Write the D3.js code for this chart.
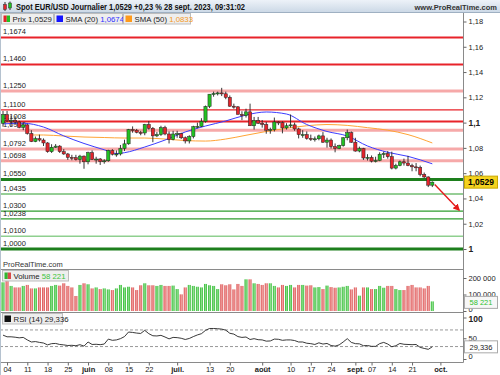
<!DOCTYPE html>
<html>
<head>
<meta charset="utf-8">
<script src="https://cdn.jsdelivr.net/npm/d3@7"></script>
<style>
  body { margin: 0; background: #fff; }
  svg { display: block; font-family: "Liberation Sans", Arial, sans-serif; }
</style>
</head>
<body>
<svg width="500" height="375"></svg>
<script>
// ---- data (daily bars, 3 May -> 28 Sept 2023, weekdays) ----
const opens = [1.0995,1.1063,1.1014,1.1019,1.1005,1.0962,1.0982,1.0914,1.0850,1.0873,
  1.0862,1.0839,1.0770,1.0805,1.0814,1.0770,1.0752,1.0725,1.0722,1.0707,
  1.0735,1.0690,1.0762,1.0708,1.0712,1.0692,1.0698,1.0780,1.0750,1.0752,
  1.0795,1.0832,1.0945,1.0940,1.0923,1.0918,1.0985,1.0955,1.0895,1.0905,
  1.0960,1.0910,1.0866,1.0910,1.0912,1.0880,1.0855,1.0890,1.0968,1.0970,
  1.1010,1.1128,1.1225,1.1230,1.1235,1.1228,1.1200,1.1130,1.1125,1.1065,
  1.1055,1.1085,1.0975,1.1015,1.0995,1.0985,1.0940,1.0945,1.1005,1.1000,
  1.0958,1.0975,1.0982,1.0950,1.0905,1.0905,1.0875,1.0870,1.0872,1.0895,
  1.0845,1.0862,1.0810,1.0795,1.0818,1.0880,1.0920,1.0845,1.0775,1.0795,
  1.0720,1.0725,1.0695,1.0700,1.0750,1.0755,1.0730,1.0640,1.0660,1.0690,
  1.0680,1.0660,1.0650,1.0645,1.0590,1.0570,1.0505];
const highs = [1.1092,1.1092,1.1055,1.1050,1.1015,1.1000,1.0990,1.0940,1.0890,1.0905,
  1.0875,1.0845,1.0829,1.0830,1.0822,1.0790,1.0760,1.0745,1.0745,1.0745,
  1.0740,1.0770,1.0780,1.0730,1.0720,1.0710,1.0785,1.0790,1.0780,1.0823,
  1.0865,1.0950,1.0970,1.0950,1.0935,1.0990,1.1012,1.0965,1.0925,1.0975,
  1.0975,1.0930,1.0935,1.0935,1.0920,1.0890,1.0900,1.0975,1.1000,1.1035,
  1.1135,1.1225,1.1245,1.1245,1.1275,1.1245,1.1215,1.1150,1.1130,1.1090,
  1.1110,1.1150,1.1045,1.1045,1.1020,1.1005,1.0960,1.1040,1.1010,1.1010,
  1.0995,1.1064,1.1000,1.0960,1.0940,1.0930,1.0905,1.0890,1.0905,1.0925,
  1.0880,1.0875,1.0835,1.0825,1.0885,1.0945,1.0930,1.0880,1.0810,1.0800,
  1.0750,1.0740,1.0730,1.0765,1.0770,1.0775,1.0770,1.0675,1.0700,1.0715,
  1.0737,1.0675,1.0680,1.0660,1.0605,1.0575,1.0535];
const lows = [1.0968,1.1003,1.0968,1.0990,1.0955,1.0940,1.0905,1.0846,1.0845,1.0850,
  1.0815,1.0762,1.0760,1.0800,1.0760,1.0745,1.0705,1.0702,1.0700,1.0675,
  1.0635,1.0670,1.0705,1.0675,1.0665,1.0675,1.0690,1.0740,1.0730,1.0740,
  1.0775,1.0825,1.0920,1.0915,1.0900,1.0900,1.0945,1.0845,1.0885,1.0895,
  1.0900,1.0835,1.0860,1.0880,1.0870,1.0835,1.0835,1.0875,1.0955,1.0965,
  1.1000,1.1115,1.1205,1.1215,1.1210,1.1185,1.1125,1.1110,1.1065,1.1020,
  1.1040,1.0975,1.0945,1.0990,1.0960,1.0912,1.0912,1.0930,1.0980,1.0915,
  1.0945,1.0960,1.0935,1.0875,1.0880,1.0865,1.0855,1.0850,1.0860,1.0840,
  1.0802,1.0795,1.0765,1.0790,1.0810,1.0860,1.0840,1.0770,1.0765,1.0705,
  1.0700,1.0685,1.0685,1.0695,1.0720,1.0715,1.0630,1.0630,1.0655,1.0660,
  1.0655,1.0615,1.0615,1.0575,1.0560,1.0490,1.0490];
const closes = [1.1063,1.1014,1.1019,1.1005,1.0962,1.0982,1.0914,1.0850,1.0873,1.0862,
  1.0839,1.0770,1.0805,1.0814,1.0770,1.0752,1.0725,1.0722,1.0707,1.0735,
  1.0690,1.0762,1.0708,1.0712,1.0692,1.0698,1.0780,1.0750,1.0752,1.0795,
  1.0832,1.0945,1.0940,1.0923,1.0918,1.0985,1.0955,1.0895,1.0905,1.0960,
  1.0910,1.0866,1.0910,1.0912,1.0880,1.0855,1.0890,1.0968,1.0970,1.1010,
  1.1128,1.1225,1.1230,1.1235,1.1228,1.1200,1.1130,1.1125,1.1065,1.1055,
  1.1085,1.0975,1.1015,1.0995,1.0985,1.0940,1.0945,1.1005,1.1000,1.0958,
  1.0975,1.0982,1.0950,1.0905,1.0905,1.0875,1.0870,1.0872,1.0895,1.0845,
  1.0862,1.0810,1.0795,1.0818,1.0880,1.0920,1.0845,1.0775,1.0795,1.0720,
  1.0725,1.0695,1.0700,1.0750,1.0755,1.0730,1.0640,1.0660,1.0690,1.0680,
  1.0660,1.0650,1.0645,1.0590,1.0570,1.0505,1.0529];

const volumes = [174000,188000,152000,143000,143000,152000,158000,137000,137000,143000,
  143000,143000,152000,158000,154000,168000,152000,143000,91000,158000,
  168000,162000,137000,143000,133000,137000,131000,127000,137000,158000,
  143000,147000,143000,127000,156000,168000,156000,156000,152000,158000,
  152000,152000,154000,133000,101000,143000,158000,152000,147000,143000,
  164000,156000,152000,133000,162000,156000,162000,131000,164000,152000,
  192000,192000,168000,164000,158000,168000,168000,152000,143000,158000,
  152000,158000,143000,158000,158000,154000,156000,143000,145000,133000,
  154000,145000,141000,143000,147000,152000,131000,143000,93000,143000,
  143000,133000,133000,152000,141000,152000,152000,133000,127000,127000,
  152000,158000,143000,143000,137000,152000,58221];

const rsi = [57.5,53.5,53.5,52.5,51,52,46,41,42,40,
  38.5,34,37,37.5,35,34,32.5,33,32,34.5,
  31,41,35,35.5,34.5,36,48,45,46,49,
  54,65,64,62.5,61.5,69,61,56,55.5,57,
  53,48.5,52,51.5,50,47,49.5,54,58,61,
  69,73.5,73.5,73,72,69.5,62,60,54,52,
  53,47,49,46.5,46,43,43.5,48,47.5,45,
  46,46,44.5,41,41,38,37,35,39,36,
  37.5,32.5,31,34,41,49,40,37,36.5,32,
  32.5,30.5,30.5,37,40,36,29.5,32,37.5,35.5,
  35,34.5,35,28,25.5,23.3,29.336];

// moving averages at a few bars
const sma20Idx = [0,5,10,15,20,25,28,30,35,40,45,50,55,60,65,70,75,80,85,90,95,100,106];
const sma20 = [1.0990,1.0995,1.0965,1.0895,1.0835,1.0785,1.0755,1.0762,1.0807,1.0862,1.0926,1.0973,
  1.1013,1.1060,1.1084,1.1068,1.0985,1.0930,1.0894,1.0815,1.0765,1.0733,1.0674];
const sma50Idx = [7,10,15,20,25,30,35,40,45,50,55,60,65,70,75,80,85,90,95,100,106];
const sma50 = [1.0902,1.0902,1.0894,1.0886,1.0882,1.0878,1.0878,1.0870,1.0858,1.0854,1.0870,
  1.0900,1.0930,1.0955,1.0975,1.0985,1.0978,1.0960,1.0940,1.0905,1.0839];

// support / resistance levels drawn by the user
const levels = [1.1674,1.1460,1.1250,1.1100,1.1008,1.0940,1.0792,1.0698,1.0550,1.0435,1.0300,1.0238,1.0100,1.0000];

const tickIdx = [1,6,11,16,21,26,31,36,43,51,56,64,71,76,81,87,91,96,101,108];
const tickLabels = ["04","11","18","25","juin","08","15","22","juil.","13","20","août","10","17","24","sept.","07","14","21","oct."];
const priceTicks = [1,1.02,1.04,1.06,1.08,1.1,1.12,1.14,1.16,1.18];

const lastPrice = 1.0529;
const arrowFrom = [106.6, 1.0510];
const arrowTo = [112.6, 1.0309];

// ---- layout ----
const axisX = 463.5;
const svg = d3.select("svg");
const defs = svg.append("defs");

const x = d3.scaleLinear().domain([0, 106]).range([3, 432.3]);
const y = d3.scaleLinear().domain([1, 1.18]).range([249, 21.5]);
const yVol = d3.scaleLinear().domain([0, 200000]).range([311, 278]);
const yRsi = d3.scaleLinear().domain([0, 100]).range([359, 317.5]);

const comma = v => String(v).replace(".", ",");

// gradients
const hdr = defs.append("linearGradient").attr("id", "hdr").attr("x1", 0).attr("y1", 0).attr("x2", 0).attr("y2", 1);
hdr.append("stop").attr("offset", 0).attr("stop-color", "#edf2f8");
hdr.append("stop").attr("offset", 1).attr("stop-color", "#cbd8e6");
function hGrad(id, a, b) {
  const g = defs.append("linearGradient").attr("id", id);
  g.append("stop").attr("offset", 0).attr("stop-color", a);
  g.append("stop").attr("offset", 0.55).attr("stop-color", b);
  g.append("stop").attr("offset", 1).attr("stop-color", a);
}
hGrad("volUp", "#2fb82f", "#8fe08f");
hGrad("volDown", "#d84a4a", "#f2a4a4");

defs.append("clipPath").attr("id", "pclip")
  .append("rect").attr("x", 0).attr("y", 13).attr("width", axisX).attr("height", 256);
defs.append("marker").attr("id", "arr").attr("viewBox", "0 0 10 10")
  .attr("refX", 8).attr("refY", 5).attr("markerWidth", 5).attr("markerHeight", 5)
  .attr("orient", "auto")
  .append("path").attr("d", "M0,0L10,5L0,10z").attr("fill", "#e41a1a");

svg.append("rect").attr("width", 500).attr("height", 375).attr("fill", "#fff");

// ---- price panel ----
const price = svg.append("g").attr("clip-path", "url(#pclip)");

const levelStyle = v => {
  if (v === 1.055 || v === 1) return { c: "#1d7f1d", w: 3 };
  if (v === 1.01) return { c: "#8fd08f", w: 1.5 };
  if (v < lastPrice) return { c: "#2f9e2f", w: 1.2 };
  if (v === 1.125 || v === 1.094 || v === 1.0792 || v === 1.0698) return { c: "#f6a9a9", w: 3 };
  if (v === 1.11) return { c: "#e8232a", w: 1.2 };
  return { c: "#e8232a", w: 2 };
};

price.selectAll(".lvl").data(levels).enter().append("line")
  .attr("x1", 0).attr("x2", axisX)
  .attr("y1", d => y(d)).attr("y2", d => y(d))
  .attr("stroke", d => levelStyle(d).c)
  .attr("stroke-width", d => levelStyle(d).w);

price.selectAll(".lvlTxt").data(levels).enter().append("text")
  .attr("x", 3).attr("y", d => y(d) - 3)
  .attr("font-size", 7.5).attr("fill", "#222")
  .text(d => comma(d.toFixed(4)));

const smaLine = d3.line().curve(d3.curveMonotoneX);
price.append("path")
  .attr("d", smaLine(sma50Idx.map((i, k) => [x(i), y(sma50[k])])))
  .attr("fill", "none").attr("stroke", "#ffa436").attr("stroke-width", 1);
price.append("path")
  .attr("d", smaLine(sma20Idx.map((i, k) => [x(i), y(sma20[k])])))
  .attr("fill", "none").attr("stroke", "#3c3cff").attr("stroke-width", 1);

const bars = d3.range(closes.length);
const up = i => closes[i] >= opens[i];

price.selectAll(".wick").data(bars).enter().append("line")
  .attr("x1", i => x(i)).attr("x2", i => x(i))
  .attr("y1", i => y(highs[i])).attr("y2", i => y(lows[i]))
  .attr("stroke", "#222").attr("stroke-width", 0.9);

price.selectAll(".body").data(bars).enter().append("rect")
  .attr("x", i => x(i) - 1.6).attr("width", 3.2)
  .attr("y", i => y(Math.max(opens[i], closes[i])))
  .attr("height", i => Math.max(1, Math.abs(y(opens[i]) - y(closes[i]))))
  .attr("fill", i => up(i) ? "#22c022" : "#e3242b")
  .attr("stroke", "#222").attr("stroke-width", 0.5);

price.append("line")
  .attr("x1", x(arrowFrom[0])).attr("y1", y(arrowFrom[1]))
  .attr("x2", x(arrowTo[0])).attr("y2", y(arrowTo[1]))
  .attr("stroke", "#e41a1a").attr("stroke-width", 1.4)
  .attr("marker-end", "url(#arr)");

svg.append("text").attr("x", 3).attr("y", 267)
  .attr("font-size", 7.5).attr("fill", "#333").text("ProRealTime.com");

// ---- volume panel ----
svg.selectAll(".vol").data(bars).enter().append("rect")
  .attr("x", i => x(i) - 1.5).attr("width", 3)
  .attr("y", i => yVol(volumes[i]))
  .attr("height", i => yVol(0) - yVol(volumes[i]))
  .attr("fill", i => up(i) ? "url(#volUp)" : "url(#volDown)");

// ---- RSI panel ----
svg.selectAll(".rsiRef").data([70, 30]).enter().append("line")
  .attr("x1", 0).attr("x2", axisX)
  .attr("y1", d => yRsi(d)).attr("y2", d => yRsi(d))
  .attr("stroke", "#999").attr("stroke-dasharray", "3,2");

svg.append("path")
  .attr("d", d3.line()(rsi.map((v, i) => [x(i), yRsi(v)])))
  .attr("fill", "none").attr("stroke", "#222").attr("stroke-width", 0.9);

// ---- frame & separators ----
[12.5, 269.5, 312.5, 362.5].forEach(yy => {
  svg.append("line").attr("x1", 0).attr("x2", yy === 12.5 ? 500 : axisX)
    .attr("y1", yy).attr("y2", yy).attr("stroke", yy === 12.5 ? "#9fb0c2" : "#8a8a8a");
});
svg.append("line").attr("x1", axisX).attr("x2", axisX).attr("y1", 13).attr("y2", 362.5).attr("stroke", "#8a8a8a");
svg.append("line").attr("x1", 0.5).attr("x2", 0.5).attr("y1", 13).attr("y2", 375).attr("stroke", "#b5c2cf");

// ---- axes ----
function styleAxis(g, size) {
  g.select(".domain").remove();
  g.selectAll(".tick line").attr("stroke", "#666");
  g.selectAll("text").attr("font-size", size).attr("fill", "#222")
    .attr("font-family", "'Liberation Sans', Arial, sans-serif");
}

const pAxis = svg.append("g").attr("transform", `translate(${axisX},0)`)
  .call(d3.axisRight(y).tickValues(priceTicks).tickSize(3).tickPadding(2)
    .tickFormat(d => comma(+d.toFixed(2))));
styleAxis(pAxis, 7.5);
pAxis.selectAll("text").filter(d => Math.abs(d * 10 - Math.round(d * 10)) < 1e-9)
  .attr("font-weight", "bold").attr("font-size", 8.5);

const vAxis = svg.append("g").attr("transform", `translate(${axisX},0)`)
  .call(d3.axisRight(yVol).tickValues([0, 100000, 200000]).tickSize(3).tickPadding(2)
    .tickFormat(d => d3.format(",")(d).replace(/,/g, " ")));
styleAxis(vAxis, 7.5);
vAxis.selectAll("text").filter(d => d === 0).attr("dy", "0.05em");

const rAxis = svg.append("g").attr("transform", `translate(${axisX},0)`)
  .call(d3.axisRight(yRsi).tickValues([0, 50, 100]).tickSize(3).tickPadding(2));
styleAxis(rAxis, 7.5);
rAxis.selectAll("text").filter(d => d === 100).attr("font-weight", "bold").attr("font-size", 8.5).attr("dy", "0.45em");
rAxis.selectAll("text").filter(d => d === 0).attr("dy", "-0.1em");

const xAxis = svg.append("g").attr("transform", "translate(0,362.5)")
  .call(d3.axisBottom(x).tickValues(tickIdx).tickSize(3).tickPadding(1)
    .tickFormat((d, i) => tickLabels[i]));
styleAxis(xAxis, 7.5);
xAxis.selectAll("text").filter((d, i) => isNaN(+tickLabels[i])).attr("font-weight", "bold");

// ---- value boxes on the right ----
function valueBox(cy, txt, bg, border, color, bold) {
  svg.append("rect").attr("x", 464.5).attr("y", cy - 6).attr("width", 33).attr("height", 12)
    .attr("fill", bg).attr("stroke", border);
  svg.append("text").attr("x", 481).attr("y", cy + 3).attr("text-anchor", "middle")
    .attr("font-size", bold ? 8.5 : 7.5).attr("font-weight", bold ? "bold" : "normal")
    .attr("fill", color).text(txt);
}
valueBox(y(lastPrice), comma(lastPrice.toFixed(4)), "#f4d21f", "#c8a800", "#000", true);
valueBox(yVol(volumes[volumes.length - 1]) + 1, d3.format(",")(volumes[volumes.length - 1]).replace(/,/g, " "), "#f7f7f7", "#aaa", "#2fbf2f", false);
valueBox(yRsi(rsi[rsi.length - 1]), comma(rsi[rsi.length - 1]), "#fff", "#aaa", "#222", false);

// ---- header ----
svg.append("rect").attr("width", 500).attr("height", 12.5).attr("fill", "url(#hdr)");
svg.append("line").attr("x1", 0).attr("x2", 500).attr("y1", 12.5).attr("y2", 12.5).attr("stroke", "#9fb0c2");
// little candle icon
svg.append("line").attr("x1", 5).attr("x2", 5).attr("y1", 2).attr("y2", 11).attr("stroke", "#333");
svg.append("rect").attr("x", 3.5).attr("y", 4.5).attr("width", 3).attr("height", 5).attr("fill", "#e3242b").attr("stroke", "#333").attr("stroke-width", 0.5);
svg.append("line").attr("x1", 10).attr("x2", 10).attr("y1", 1.5).attr("y2", 10).attr("stroke", "#333");
svg.append("rect").attr("x", 8.5).attr("y", 3).attr("width", 3).attr("height", 5).attr("fill", "#22c022").attr("stroke", "#333").attr("stroke-width", 0.5);

svg.append("text").attr("x", 16).attr("y", 9.5)
  .attr("font-size", 8.5).attr("font-weight", "bold").attr("fill", "#111")
  .attr("textLength", 229).attr("lengthAdjust", "spacingAndGlyphs")
  .text("Spot EUR/USD Journalier 1,0529 +0,23 % 28 sept. 2023, 09:31:02");
svg.append("text").attr("x", 497).attr("y", 9.5).attr("text-anchor", "end")
  .attr("font-size", 7.5).attr("font-weight", "bold").attr("fill", "#333")
  .text("www.ProRealTime.com");

// ---- legend boxes ----
function legendBox(x0, y0, w, icon, label, value, valueColor) {
  const g = svg.append("g");
  g.append("rect").attr("x", x0 + 0.5).attr("y", y0 + 0.5).attr("width", w).attr("height", 10.5)
    .attr("fill", "#eeeeee").attr("stroke", "#bdbdbd");
  const ix = x0 + 2.5, iy = y0 + 2.5;
  if (icon.length === 1) {
    g.append("rect").attr("x", ix).attr("y", iy).attr("width", 6.5).attr("height", 6.5).attr("fill", icon[0]);
  } else {
    g.append("rect").attr("x", ix).attr("y", iy).attr("width", 3.25).attr("height", 6.5).attr("fill", icon[0]);
    g.append("rect").attr("x", ix + 3.25).attr("y", iy).attr("width", 3.25).attr("height", 6.5).attr("fill", icon[1]);
  }
  const t = g.append("text").attr("x", x0 + 11.5).attr("y", y0 + 8.7).attr("font-size", 7.8).attr("fill", "#222");
  t.append("tspan").text(label + " ");
  t.append("tspan").attr("fill", valueColor).text(value);
}
legendBox(1, 13, 52, ["#e3242b", "#22c022"], "Prix", "1,0529", "#222");
legendBox(54, 13, 68, ["#1414ff"], "SMA (20)", "1,0674", "#2f2fff");
legendBox(123, 13, 67, ["#ff9a1a"], "SMA (50)", "1,0833", "#f59a23");
legendBox(2, 270, 66, ["#2fb82f", "#d84a4a"], "Volume", "58 221", "#3cc33c");
legendBox(2, 313, 60, ["#111"], "RSI (14)", "29,336", "#222");
</script>
</body>
</html>
